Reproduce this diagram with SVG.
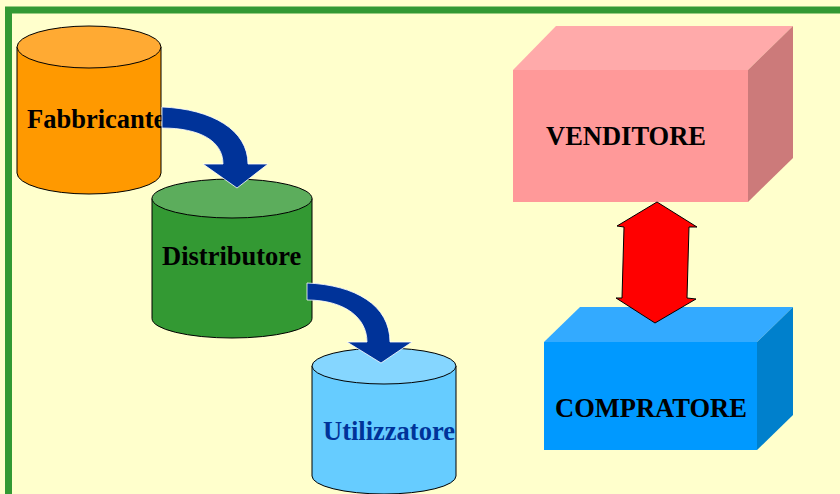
<svg xmlns="http://www.w3.org/2000/svg" width="840" height="494" viewBox="0 0 840 494">
<style>
.lbl{font-family:"Liberation Serif","Times New Roman",serif;font-weight:bold;font-size:26.5px;}
.cyl{stroke:#000;stroke-width:1;}
.flow{fill:#003399;stroke:#FFFFFF;stroke-width:0.8;}
</style>
<rect x="0" y="0" width="840" height="494" fill="#FFFFCC"/>
<rect x="8.5" y="10" width="900" height="600" fill="none" stroke="#339933" stroke-width="7"/>
<g id="fabbricante">
<path class="cyl" d="M17,47 L17,173 A72,21 0 0 0 161,173 L161,47 Z" fill="#FF9900"/>
<ellipse class="cyl" cx="89" cy="47" rx="72" ry="21" fill="#FFAA33"/>
<text class="lbl" x="27" y="128">Fabbricante</text>
</g>
<g id="distributore">
<path class="cyl" d="M152,198.5 L152,318.5 A80,19.5 0 0 0 312,318.5 L312,198.5 Z" fill="#339933"/>
<ellipse class="cyl" cx="232" cy="198.5" rx="80" ry="19.5" fill="#5CAD5C"/>
<text class="lbl" x="162" y="265">Distributore</text>
</g>
<g id="utilizzatore">
<path class="cyl" d="M312,366 L312,476 A72,18 0 0 0 456,476 L456,366 Z" fill="#66CCFF"/>
<ellipse class="cyl" cx="384" cy="366" rx="72" ry="18" fill="#85D6FF"/>
<text class="lbl" x="323" y="440" fill="#003399">Utilizzatore</text>
</g>
<g id="venditore">
<polygon points="513,70 556,26 793,26 748,70" fill="#FFAAAA"/>
<polygon points="748,70 793,26 793,158 748,202" fill="#CC7A7A"/>
<rect x="513" y="70" width="235" height="132" fill="#FF9999"/>
<text class="lbl" x="546" y="145">VENDITORE</text>
</g>
<g id="compratore">
<polygon points="544,342 580,307 793,307 757,342" fill="#33AAFF"/>
<polygon points="757,342 793,307 793,415 757,450" fill="#0080CC"/>
<rect x="544" y="342" width="213" height="108" fill="#0099FF"/>
<text class="lbl" x="555" y="417">COMPRATORE</text>
</g>
<g id="connectors">
<path class="flow" d="M162,107 C212,109 248,130 248,164 L268,164 L237,188 L203,164 L223,164 C223,141 200,128 162,128 Z"/>
<path class="flow" d="M307,283 C355,285 390,305 390,342 L412,342 L381,363 L347,342 L367,342 C367,318 345,300 307,300 Z"/>
<polygon points="657,202 697,227 689,227 687,298 696,299 655,323 616,298 622,298 624,227 617,226" fill="#FF0000" stroke="#000" stroke-width="1"/>
</g>
</svg>
